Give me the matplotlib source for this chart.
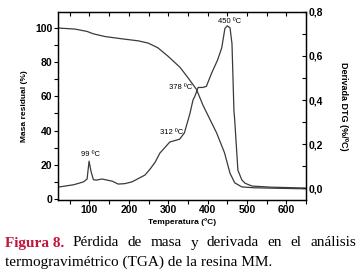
import numpy as np
import matplotlib
matplotlib.use("Agg")
import matplotlib.pyplot as plt
from matplotlib.ticker import MultipleLocator, FuncFormatter

# mass loss curve (TGA), left axis
mass_temp = [20, 63, 94, 110, 140, 182, 224, 249, 274, 300, 330, 350, 372,
             388, 405, 423, 443, 457, 469, 487, 520, 580, 650]
mass_pct = [100, 99.4, 98, 96.6, 95, 93.7, 92.5, 91.2, 88.4, 83.4, 77, 71, 64,
            55, 47, 38.6, 27, 15, 9.4, 7, 6.5, 6.2, 5.9]

# derivative curve (DTG), right axis
dtg_temp = [20, 60, 85, 94, 99, 104, 110, 117, 132, 158, 173, 190, 208, 241,
            254, 267, 279, 304, 329, 341, 355, 363, 368, 376, 388, 397, 410,
            425, 436, 444, 450, 457, 462, 467, 469, 477, 487, 495, 513, 560,
            650]
dtg_val = [0.004, 0.015, 0.028, 0.041, 0.122, 0.075, 0.038, 0.036, 0.041, 0.031,
           0.018, 0.02, 0.028, 0.059, 0.086, 0.118, 0.159, 0.209, 0.222, 0.25,
           0.337, 0.40, 0.418, 0.457, 0.457, 0.462, 0.521, 0.58, 0.637, 0.725,
           0.737, 0.728, 0.656, 0.35, 0.307, 0.081, 0.037, 0.022, 0.009, 0.004,
           0.0]

peak_labels = ["99 ºC", "312 ºC", "378 ºC", "450 ºC"]
peak_temp = [102, 338, 360, 457]
peak_val = [0.136, 0.235, 0.443, 0.74]
peak_ha = ["center", "right", "right", "center"]

caption_line1 = ["Figura 8.", "Pérdida", "de", "masa", "y", "derivada",
                 "en", "el", "análisis"]
caption_line2 = "termogravimétrico (TGA) de la resina MM."

line_col = "#3a3a3a"
tick_font = {"family": "Liberation Sans", "weight": "bold", "size": 7.5}

fig = plt.figure(figsize=(3.6, 2.72), dpi=100)
ax = fig.add_axes([0.161, 0.265, 0.689, 0.691])
ax2 = ax.twinx()

ax.plot(mass_temp, mass_pct, color=line_col, lw=0.9)
ax2.plot(dtg_temp, dtg_val, color=line_col, lw=0.9)

ax.set_xlim(20, 650)
ax.set_ylim(-0.6, 109.4)
ax2.set_ylim(-0.054, 0.8)

ax.xaxis.set_major_locator(MultipleLocator(100))
ax.xaxis.set_minor_locator(MultipleLocator(50))
ax.yaxis.set_major_locator(MultipleLocator(20))
ax.yaxis.set_minor_locator(MultipleLocator(10))
ax2.yaxis.set_major_locator(MultipleLocator(0.2))
ax2.yaxis.set_minor_locator(MultipleLocator(0.1))
ax2.yaxis.set_major_formatter(FuncFormatter(lambda v, p: f"{v:.1f}".replace(".", ",")))

ax.tick_params(axis="x", which="both", direction="out", top=True, length=3, width=0.8, pad=1)
ax.tick_params(axis="y", which="both", direction="out", length=3, width=0.8, pad=1)
ax2.tick_params(axis="y", which="both", direction="in", length=3, width=0.8, pad=2)
# top ticks point inward
for t in ax.xaxis.get_major_ticks() + ax.xaxis.get_minor_ticks():
    t.tick2line.set_marker(matplotlib.markers.TICKDOWN)

for lab in ax.get_xticklabels() + ax.get_yticklabels() + ax2.get_yticklabels():
    lab.set_fontproperties(tick_font)

for a in (ax, ax2):
    for s in a.spines.values():
        s.set_linewidth(0.9)

ax.set_xlabel("Temperatura (ºC)", fontsize=6, fontweight="bold",
              family="Liberation Sans", labelpad=2)
ax.set_ylabel("Masa residual (%)", fontsize=6, fontweight="bold",
              family="Liberation Sans", labelpad=5)
ax2.set_ylabel("Derivada DTG (%/ºC)", fontsize=6.5, fontweight="bold",
               family="Liberation Sans", rotation=270, labelpad=18)

for lab, t, v, ha in zip(peak_labels, peak_temp, peak_val, peak_ha):
    ax2.text(t, v, lab, fontsize=5.5, family="Liberation Sans", ha=ha, va="bottom")

# caption, first line justified
fig.canvas.draw()
renderer = fig.canvas.get_renderer()
cap_y1 = 1 - 243 / 272
cap_y2 = 1 - 262 / 272
word_objs = []
for i, w in enumerate(caption_line1):
    red = i == 0
    txt = fig.text(0, cap_y1, w, fontsize=11, family="Liberation Serif",
                   fontweight="bold" if red else "normal",
                   color="#c3163b" if red else "black", va="center", ha="left")
    word_objs.append(txt)
widths = [t.get_window_extent(renderer).width for t in word_objs]
x0, x1 = 5, 356
gap = (x1 - x0 - sum(widths)) / (len(widths) - 1)
xpos = x0
for t, w in zip(word_objs, widths):
    t.set_x(xpos / 360)
    xpos += w + gap

fig.text(5 / 360, cap_y2, caption_line2, fontsize=11, family="Liberation Serif",
         va="center", ha="left")

fig.savefig("out.png", dpi=100)
